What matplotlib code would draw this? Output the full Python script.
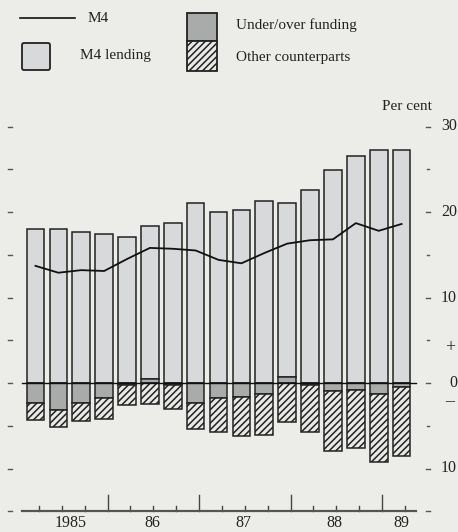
import numpy as np
import matplotlib
matplotlib.use("Agg")
import matplotlib.pyplot as plt
from matplotlib.patches import Rectangle, FancyBboxPatch
from matplotlib.lines import Line2D

# quarterly data, 1985 Q1 .. 1989 Q1 (per cent)
quarters = list(range(17))
m4_lending = [18.0, 18.0, 17.7, 17.4, 17.1, 17.9, 18.7, 21.0, 20.0, 20.2,
              21.3, 20.4, 22.6, 24.9, 26.6, 27.2, 27.3]
funding = [-2.3, -3.2, -2.3, -1.8, -0.2, 0.5, -0.25, -2.3, -1.7, -1.6,
           -1.3, 0.7, -0.2, -0.9, -0.8, -1.3, -0.5]
other_cp = [-2.0, -1.9, -2.1, -2.4, -2.4, -2.4, -2.75, -3.1, -4.0, -4.6,
            -4.8, -4.6, -5.5, -7.0, -6.8, -7.9, -8.0]
m4 = [13.7, 12.9, 13.2, 13.1, 14.5, 15.8, 15.7, 15.5, 14.4, 14.0,
      15.2, 16.3, 16.7, 16.8, 18.7, 17.8, 18.6]
year_labels = ["1985", "86", "87", "88", "89"]
year_pos = [1.55, 5.09, 9.07, 13.05, 15.97]
year_ends = [3, 7, 11, 15]
right_ticks = [30, 20, 10, 0, -10]
right_labels = ["30", "20", "10", "0", "10"]

BG = "#ecece9"
LEND = "#d7d9da"
FUND = "#a9abab"
HATCH_FACE = "#e9e9e7"
EDGE = "#222222"

plt.rcParams["font.family"] = ["Liberation Serif", "DejaVu Serif"]
plt.rcParams["hatch.linewidth"] = 1.1

W, H = 458, 532
fig = plt.figure(figsize=(W / 100, H / 100), dpi=100, facecolor=BG)
ax = fig.add_axes([0, 0, 1, 1])
ax.set_facecolor(BG)
ax.axis("off")

# pixel -> data mapping: bar i centre at 35.5 + 22.88 i px, zero at 383 px, 8.55 px/unit
x0, dx = 35.5, 22.88
y0, dy = 383, 8.55
ax.set_xlim((0 - x0) / dx, (W - x0) / dx)
ax.set_ylim((y0 - H) / dy, y0 / dy)

x = np.array(quarters)
f = np.array(funding)
bw = 0.77

ax.bar(x, m4_lending, bw, bottom=np.maximum(f, 0), color=LEND,
       edgecolor=EDGE, linewidth=1.1, zorder=2)
ax.bar(x, f, bw, color=FUND, edgecolor=EDGE, linewidth=1.1, zorder=2)
ax.bar(x, other_cp, bw, bottom=np.minimum(f, 0), color=HATCH_FACE,
       edgecolor=EDGE, linewidth=1.1, hatch="/////", zorder=2)

ax.plot(x, m4, color="#111111", lw=1.3, zorder=4)

# zero line and bottom axis
xl, xr = (22 - x0) / dx, (416 - x0) / dx
ax.plot([xl, xr], [0, 0], color="#111111", lw=1.0, zorder=3)
ax.plot([xl, xr], [-15, -15], color="#555555", lw=1.6, zorder=3)
for q in quarters:
    top = -15 + (16 if q in year_ends else 5) / dy
    ax.plot([q + 0.15, q + 0.15], [-15, top], color="#444444", lw=1.0)
for lab, p in zip(year_labels, year_pos):
    ax.text(p, -16.4, lab, ha="center", va="center", fontsize=11.5, color="#222222")

# left and right scale marks
xlt = (10 - x0) / dx
xrt = (428 - x0) / dx
for v in range(-15, 31, 5):
    ax.plot([xlt - 0.07, xlt + 0.07], [v, v], color="#555555", lw=1.0)
    w = 0.09 if v % 10 == 0 or v == -15 else 0.03
    ax.plot([xrt - w, xrt + w], [v, v], color="#555555", lw=1.0)
for v, lab in zip(right_ticks, right_labels):
    ax.text((457 - x0) / dx, v, lab, ha="right", va="center", fontsize=11.5, color="#222222")
ax.text((450 - x0) / dx, 4.1, "+", ha="center", va="center", fontsize=13, color="#222222")
ax.text((450 - x0) / dx, -2.2, "\u2013", ha="center", va="center", fontsize=13, color="#222222")
ax.text((407 - x0) / dx, 32.3, "Per cent", ha="center", va="center", fontsize=11, color="#222222")

# legend (figure pixel coordinates)
def fx(px):
    return px / W

def fy(py):
    return 1 - py / H

fig.add_artist(Line2D([fx(20), fx(75)], [fy(18), fy(18)], color="#111111", lw=1.2))
fig.text(fx(88), fy(19), "M4", ha="left", va="center", fontsize=11, color="#222222")
fig.add_artist(FancyBboxPatch((fx(22), fy(70)), fx(28), 27 / H,
                              boxstyle="round,pad=0,rounding_size=0.004",
                              facecolor=LEND, edgecolor=EDGE, lw=1.3,
                              transform=fig.transFigure))
fig.text(fx(80), fy(55), "M4 lending", ha="left", va="center", fontsize=11, color="#222222")
fig.add_artist(Rectangle((fx(187), fy(41)), fx(30), 28 / H, facecolor=FUND,
                         edgecolor=EDGE, lw=1.3, transform=fig.transFigure))
fig.add_artist(Rectangle((fx(187), fy(71)), fx(30), 30 / H, facecolor=HATCH_FACE,
                         edgecolor=EDGE, lw=1.3, hatch="/////", transform=fig.transFigure))
fig.text(fx(236), fy(25), "Under/over funding", ha="left", va="center", fontsize=11, color="#222222")
fig.text(fx(236), fy(58), "Other counterparts", ha="left", va="center", fontsize=11, color="#222222")

fig.savefig("out.png", dpi=100, facecolor=BG)
